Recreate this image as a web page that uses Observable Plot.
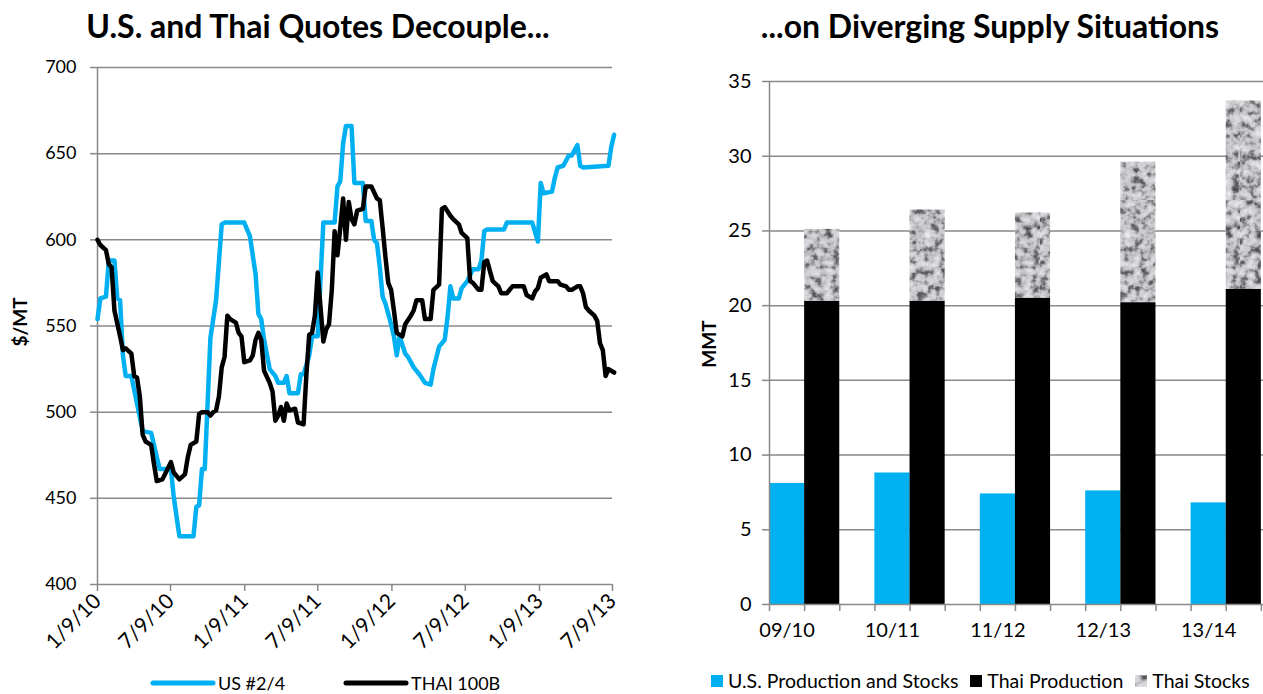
<!DOCTYPE html>
<html><head><meta charset="utf-8">
<script src="https://cdn.jsdelivr.net/npm/d3@7"></script>
<script src="https://cdn.jsdelivr.net/npm/@observablehq/plot@0.6"></script>
<style>
html,body{margin:0;padding:0;background:#fff;overflow:hidden;width:1263px;height:694px;}
#page{position:relative;width:1263px;height:694px;overflow:hidden;font-family:Lato,sans-serif;color:#000;}
.abs{position:absolute;}
.title{font-weight:700;font-size:32px;white-space:nowrap;transform:translateX(-50%);line-height:1;}
.ylab{font-weight:700;font-size:19px;white-space:nowrap;transform:translate(-50%,-50%) rotate(-90deg);line-height:1;}
.legend{display:flex;align-items:center;white-space:nowrap;line-height:1;}
.legend .item{display:flex;align-items:center;flex:none;}
.legend svg{display:block;flex:none;}
</style></head><body><div id="page"></div>
<script>
// ---------- Left chart data: weekly quotes, week index counted from startDate ----------
const startDate = "2010-01-09";
const seriesNames = ["US #2/4", "THAI 100B"];
const usQuotes = [[0,554],[1,566],[3,567],[4,588],[6,588],[7,566],[8,565],[9,533],[10,521],[12,521],[16,489],[19,488],[22,467],[26,467],[27,451],[29,428],[34,428],[35,445],[36,446],[37,467],[38,467],[40,543],[42,565],[44,609],[45,610],[52,610],[54,602],[56,580],[57,557],[58,554],[59,542],[61,525],[63,521],[64,517],[66,517],[67,521],[68,511],[71,511],[72,522],[73,522],[75,533],[76,544],[78,544],[80,610],[84,610],[85,631],[86,634],[87,656],[88,666],[90,666],[91,633],[94,633],[95,611],[97,611],[98,600],[99,598],[100,584],[101,567],[102,563],[104,551],[105,544],[106,533],[107,544],[109,534],[110,532],[112,526],[114,522],[116,517],[118,516],[119,525],[121,538],[123,542],[124,555],[125,573],[126,566],[128,566],[129,572],[131,576],[133,583],[135,583],[136,588],[137,605],[138,606],[144,606],[145,610],[154,610],[156,599],[157,633],[158,627],[161,628],[162,636],[163,642],[165,643],[167,649],[168,649],[170,655],[171,643],[172,642],[181,643],[182,654],[183,661]];
const thaiQuotes = [[0,600],[1,597],[3,594],[4,586],[5,584],[6,559],[8,544],[9,536],[10,537],[12,534],[13,521],[14,520],[15,509],[16,487],[17,483],[19,481],[20,470],[21,460],[23,461],[26,471],[27,465],[29,461],[31,464],[32,474],[33,481],[35,483],[36,499],[37,500],[39,500],[40,498],[41,500],[42,501],[43,509],[44,526],[45,532],[46,556],[47,554],[49,552],[50,546],[51,544],[52,529],[54,530],[55,533],[56,542],[57,546],[58,542],[59,524],[61,517],[62,512],[63,495],[64,498],[65,503],[66,495],[67,505],[68,501],[70,502],[71,494],[73,493],[74,522],[75,545],[76,546],[77,556],[78,581],[80,541],[81,548],[82,551],[83,571],[84,605],[85,591],[86,607],[87,624],[88,600],[89,622],[90,612],[91,609],[92,617],[94,618],[95,631],[97,631],[99,624],[100,623],[101,607],[102,590],[103,575],[104,571],[105,559],[106,546],[107,545],[108,544],[109,551],[111,556],[112,559],[113,565],[115,565],[116,554],[118,554],[119,571],[121,574],[122,618],[123,619],[125,614],[126,612],[128,609],[129,604],[131,601],[132,576],[133,575],[135,571],[136,571],[137,587],[138,588],[139,582],[140,576],[142,573],[143,569],[145,569],[147,573],[151,573],[152,568],[154,566],[155,570],[156,572],[157,578],[159,580],[160,576],[163,576],[164,574],[166,573],[167,571],[168,571],[170,573],[171,573],[172,569],[173,561],[174,559],[176,556],[177,553],[178,540],[179,536],[180,521],[181,525],[183,523]];
const dateTicks = ["2010-01-09","2010-07-09","2011-01-09","2011-07-09","2012-01-09","2012-07-09","2013-01-09","2013-07-09"];
const priceTicks = [400,450,500,550,600,650,700];

// ---------- Right chart data (million metric tons) ----------
const seasons = ["09/10","10/11","11/12","12/13","13/14"];
const usSupply = [8.1, 8.8, 7.4, 7.6, 6.8];
const thaiProduction = [20.3, 20.3, 20.5, 20.2, 21.1];
const thaiStocks = [4.8, 6.1, 5.7, 9.4, 12.6];
const supplyTicks = [0,5,10,15,20,25,30,35];
const supplyNames = ["U.S. Production and Stocks", "Thai Production", "Thai Stocks"];

const BLUE = "#00B0F0", GRID = "#898989", FONT = "Lato, sans-serif";
const page = document.getElementById("page");

// ---------- Left chart ----------
const t0 = new Date(startDate);
const toRows = (arr, name) => arr.map(([w, p]) => ({date: d3.utcDay.offset(t0, 7 * w), price: p, series: name}));
const usRows = toRows(usQuotes, seriesNames[0]);
const thaiRows = toRows(thaiQuotes, seriesNames[1]);
const tickDates = dateTicks.map(d => new Date(d));
const fmtDate = d => `${d.getUTCMonth() + 1}/${d.getUTCDate()}/${String(d.getUTCFullYear()).slice(2)}`;

const left = Plot.plot({
  width: 640, height: 660,
  marginLeft: 97, marginRight: 28, marginTop: 67, marginBottom: 76,
  style: {fontFamily: FONT, fontSize: "18px", color: "#000", background: "transparent", overflow: "visible"},
  x: {type: "utc", domain: [t0, tickDates[tickDates.length - 1]]},
  y: {domain: [400, 700]},
  marks: [
    Plot.ruleY(priceTicks, {stroke: GRID, strokeWidth: 1.5}),
    Plot.ruleX([t0], {stroke: GRID, strokeWidth: 1.5}),
    Plot.axisY({ticks: priceTicks, tickSize: 7, tickPadding: 14, stroke: GRID, strokeWidth: 1.5, fill: "#000", label: null}),
    Plot.axisX({ticks: tickDates, tickFormat: fmtDate, tickRotate: -45, tickSize: 7, tickPadding: 6, stroke: GRID, strokeWidth: 1.5, fill: "#000", fontSize: 21, label: null}),
    Plot.line(usRows, {x: "date", y: "price", stroke: BLUE, strokeWidth: 4.5}),
    Plot.line(thaiRows, {x: "date", y: "price", stroke: "#000", strokeWidth: 4.5})
  ]
});
left.style.position = "absolute"; left.style.left = "0px"; left.style.top = "0px";
page.appendChild(left);

// ---------- Right chart ----------
const supplyRows = seasons.flatMap((s, i) => [
  {season: s, part: supplyNames[0], x1: i * 3, x2: i * 3 + 1, y1: 0, y2: usSupply[i]},
  {season: s, part: supplyNames[1], x1: i * 3 + 1, x2: i * 3 + 2, y1: 0, y2: thaiProduction[i]},
  {season: s, part: supplyNames[2], x1: i * 3 + 1, x2: i * 3 + 2, y1: thaiProduction[i], y2: thaiProduction[i] + thaiStocks[i]}
]);
const partColors = [BLUE, "#000", "url(#thaiStocksPattern)"];
const right = Plot.plot({
  width: 656, height: 660,
  marginLeft: 129, marginRight: 0, marginTop: 81, marginBottom: 56,
  style: {fontFamily: FONT, fontSize: "20px", color: "#000", background: "transparent", overflow: "visible"},
  x: {domain: [0, seasons.length * 3]},
  y: {domain: [0, 35]},
  color: {type: "ordinal", domain: supplyNames, range: partColors},
  marks: [
    Plot.ruleY(supplyTicks.slice(1), {stroke: GRID, strokeWidth: 1.5}),
    Plot.rect(supplyRows, {x1: "x1", x2: "x2", y1: "y1", y2: "y2", fill: "part"}),
    Plot.ruleY([0], {stroke: GRID, strokeWidth: 1.5}),
    Plot.ruleX([0], {stroke: GRID, strokeWidth: 1.5}),
    Plot.axisY({ticks: supplyTicks, tickSize: 7, tickPadding: 11, stroke: GRID, strokeWidth: 1.5, fill: "#000", label: null}),
    Plot.axisX({ticks: d3.range(seasons.length * 3 + 1), tickFormat: () => "", tickSize: 7, stroke: GRID, strokeWidth: 1.5, label: null}),
    Plot.axisX({ticks: seasons.map((s, i) => i * 3 + 0.5), tickFormat: v => seasons[Math.round((v - 0.5) / 3)], tickSize: 0, tickPadding: 18, fill: "#000", label: null})
  ]
});
right.style.position = "absolute"; right.style.left = "640px"; right.style.top = "0px";
const ns = "http://www.w3.org/2000/svg";
const defs = document.createElementNS(ns, "defs");
defs.innerHTML = `
<filter id="mottle" x="0" y="0" width="100%" height="100%" color-interpolation-filters="sRGB">
  <feTurbulence type="fractalNoise" baseFrequency="0.13" numOctaves="3" seed="11" result="n"/>
  <feColorMatrix in="n" type="matrix" values="1 0 0 0 0  1 0 0 0 0  1 0 0 0 0  0 0 0 0 1"/>
  <feComponentTransfer>
    <feFuncR type="table" tableValues="0.25 0.28 0.33 0.42 0.62 0.76 0.81 0.85 0.89 0.93 0.97"/>
    <feFuncG type="table" tableValues="0.25 0.28 0.33 0.42 0.62 0.76 0.81 0.85 0.89 0.93 0.97"/>
    <feFuncB type="table" tableValues="0.27 0.3 0.35 0.44 0.64 0.78 0.83 0.87 0.91 0.95 0.98"/>
  </feComponentTransfer>
</filter>
<pattern id="thaiStocksPattern" patternUnits="userSpaceOnUse" width="200" height="200">
  <rect width="200" height="200" fill="#ccc" filter="url(#mottle)"/>
</pattern>`;
right.insertBefore(defs, right.firstChild);
page.appendChild(right);

// ---------- Titles and axis labels ----------
function addDiv(cls, text, x, y) {
  const d = document.createElement("div");
  d.className = "abs " + cls; d.textContent = text;
  d.style.left = x + "px"; d.style.top = y + "px";
  page.appendChild(d); return d;
}
addDiv("title", "U.S. and Thai Quotes Decouple...", 318, 10);
addDiv("title", "...on Diverging Supply Situations", 990, 10);
addDiv("ylab", "$/MT", 19, 322);
addDiv("ylab", "MMT", 708, 344);

// ---------- Legends ----------
const leftLegend = document.createElement("div");
leftLegend.className = "abs legend"; leftLegend.style.left = "150px"; leftLegend.style.top = "674px";
leftLegend.style.fontSize = "18px";
seriesNames.forEach((name, i) => {
  const it = document.createElement("div"); it.className = "item";
  it.style.marginRight = i === 0 ? "58px" : "0";
  it.innerHTML = `<svg width="66" height="8" style="margin-right:2px"><line x1="3" y1="4" x2="63" y2="4" stroke="${[BLUE, "#000"][i]}" stroke-width="5" stroke-linecap="round"/></svg><span>${name}</span>`;
  leftLegend.appendChild(it);
});
page.appendChild(leftLegend);

const rightLegend = document.createElement("div");
rightLegend.className = "abs legend"; rightLegend.style.left = "711px"; rightLegend.style.top = "671px";
rightLegend.style.fontSize = "19.5px";
supplyNames.forEach((name, i) => {
  const it = document.createElement("div"); it.className = "item";
  it.style.marginRight = "12px";
  it.innerHTML = `<svg width="12" height="12" style="margin-right:5px"><rect width="12" height="12" fill="${partColors[i]}"/></svg><span>${name}</span>`;
  rightLegend.appendChild(it);
});
page.appendChild(rightLegend);
</script></body></html>
